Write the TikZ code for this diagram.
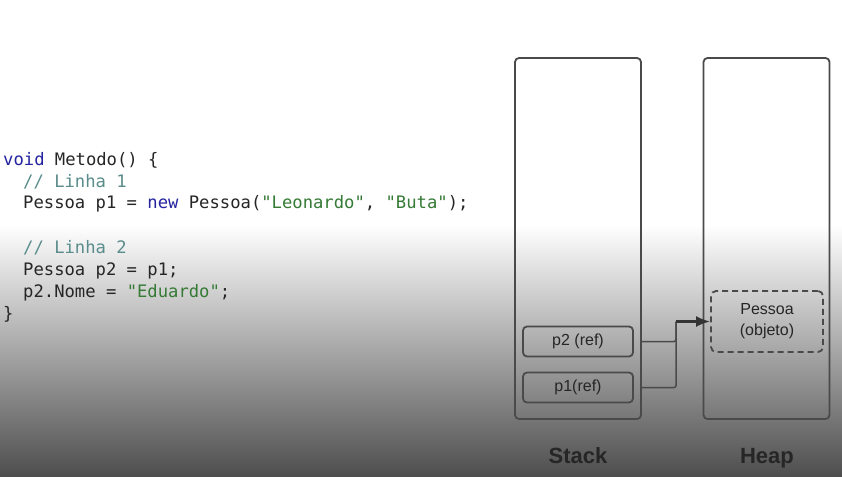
\documentclass[tikz,border=0pt]{standalone}
\usepackage{fontspec}
\setmainfont{Liberation Sans}
\setmonofont{DejaVu Sans Mono}
\usetikzlibrary{arrows.meta}
\definecolor{traco}{HTML}{4A4A4A}
\definecolor{palavra}{HTML}{2424A0}
\definecolor{comentario}{HTML}{5A8C8C}
\definecolor{texto}{HTML}{262626}
\definecolor{verde}{HTML}{357A35}
\definecolor{fundo}{HTML}{4E4E4E}
\tikzset{
  memoria/.style={draw=traco, line width=1.8pt, rounded corners=4pt,
    minimum width=126pt, minimum height=361pt},
  refbox/.style={draw=traco, line width=1.8pt, rounded corners=4pt,
    minimum width=110pt, minimum height=30pt, text=texto,
    font=\fontsize{16}{18}\selectfont},
  codigo/.style={anchor=base west, inner sep=0pt, text=texto,
    font=\ttfamily\fontsize{17.2}{20}\selectfont},
  titulo/.style={anchor=base, text=black!85, font=\bfseries\fontsize{22}{24}\selectfont}
}
\begin{document}
\begin{tikzpicture}[x=1pt, y=-1pt]
    \useasboundingbox (0,0) rectangle (842,476);
    % Fundo
    \fill[white] (0,0) rectangle (842,476);
    \shade[top color=white, bottom color=fundo] (0,225) rectangle (842,476);
    % Código
    \node[codigo] (c1) at (3,165) {{\color{palavra}void} Metodo() \{};
    \node[codigo, text=comentario] (c2) at (23,187) {// Linha 1};
    \node[codigo] (c3) at (23,208)
        {Pessoa p1 = {\color{palavra}new} Pessoa({\color{verde}"Leonardo"}, {\color{verde}"Buta"});};
    \node[codigo, text=comentario] (c4) at (23,253) {// Linha 2};
    \node[codigo] (c5) at (23,275) {Pessoa p2 = p1;};
    \node[codigo] (c6) at (23,297) {p2.Nome = {\color{verde}"Eduardo"};};
    \node[codigo] (c7) at (3,319) {\}};
    % Stack e Heap
    \node[memoria] (stack) at (578,238.5) {};
    \node[memoria] (heap) at (766.5,238.5) {};
    \node[refbox] (p2) at (578,341.5) {p2 (ref)};
    \node[refbox] (p1) at (578,387.5) {p1(ref)};
    \node[draw=traco, line width=1.8pt, rounded corners=5pt,
        dash pattern=on 6pt off 4pt, minimum width=112pt, minimum height=61pt,
        align=center, text=texto, font=\fontsize{16}{21}\selectfont]
        (obj) at (767,321.5) {Pessoa\\(objeto)};
    % Referências
    \coordinate (juncao) at (676,321.5);
    \draw[traco, line width=1.5pt, rounded corners=2pt]
        (p2.east -| stack.east) -| (juncao);
    \draw[traco, line width=1.5pt, rounded corners=2pt]
        (p1.east -| stack.east) -| (juncao);
    \draw[traco!70!black, line width=2.4pt, -{Latex[length=14pt, width=11pt]}]
        (juncao) -- (obj.west);
    % Etiquetas
    \node[titulo] (lstack) at (578,463) {Stack};
    \node[titulo] (lheap) at (767,463) {Heap};
\end{tikzpicture}
\end{document}
